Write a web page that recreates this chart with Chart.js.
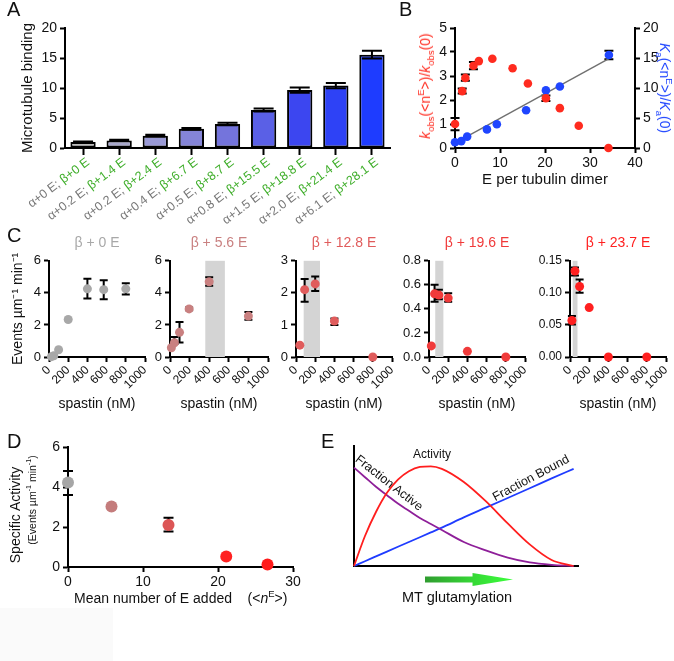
<!DOCTYPE html>
<html>
<head>
<meta charset="utf-8">
<title>Spastin activity and microtubule glutamylation</title>
<script src="https://cdn.jsdelivr.net/npm/chart.js@4.4.1/dist/chart.umd.min.js"></script>
<style>
  html, body { margin: 0; padding: 0; background: #fff; }
  body {
    position: relative;
    width: 674px;
    height: 661px;
    overflow: hidden;
    font-family: "Liberation Sans", Arial, sans-serif;
    color: #111;
  }
  canvas { position: absolute; }
  .txt { position: absolute; white-space: nowrap; line-height: 1; }
  .mid { transform: translate(-50%, -50%); }
  .up { transform: translate(-50%, -50%) rotate(-90deg); }
  .down { transform: translate(-50%, -50%) rotate(90deg); }
  .panel { font-size: 20px; }
  sub, sup { font-size: 68%; line-height: 0; }
  #shade { position: absolute; left: 0; top: 608px; width: 113px; height: 53px; background: #fafafa; }
  #arrow {
    position: absolute; left: 425px; top: 573px; width: 88px; height: 13px;
    background: linear-gradient(to right, #2f9c2f, #36d936 55%, #3cff3c);
    clip-path: polygon(0 27%, 54% 27%, 54% 0, 100% 50%, 54% 100%, 54% 73%, 0 73%);
  }
</style>
</head>
<body>
<div id="shade"></div>

<canvas id="chartA" width="400" height="230" style="left:0;top:0"></canvas>
<canvas id="chartB" width="279" height="200" style="left:395px;top:0"></canvas>
<canvas id="chartC1" width="159" height="195" style="left:0;top:225px"></canvas>
<canvas id="chartC2" width="157" height="195" style="left:125px;top:225px"></canvas>
<canvas id="chartC3" width="151" height="195" style="left:255px;top:225px"></canvas>
<canvas id="chartC4" width="149" height="195" style="left:390px;top:225px"></canvas>
<canvas id="chartC5" width="150" height="195" style="left:530px;top:225px"></canvas>
<canvas id="chartD" width="320" height="180" style="left:0;top:430px"></canvas>
<canvas id="chartE" width="280" height="150" style="left:330px;top:430px"></canvas>

<div class="txt panel" style="left:7px;top:-1px">A</div>
<div class="txt panel" style="left:399px;top:-1px">B</div>
<div class="txt panel" style="left:7px;top:225px">C</div>
<div class="txt panel" style="left:7px;top:431px">D</div>
<div class="txt panel" style="left:321px;top:431px">E</div>

<div class="txt up" style="left:425px;top:86px;font-size:14px;color:#ff2b1f"><i>k</i><sub>obs</sub>(&lt;n<sup>E</sup>&gt;)/<i>k</i><sub>obs</sub>(0)</div>
<div class="txt down" style="left:665px;top:88px;font-size:14px;color:#1f45ff"><i>K</i><sub>a</sub>(&lt;n<sup>E</sup>&gt;)/<i>K</i><sub>a</sub>(0)</div>

<div class="txt up" style="left:15px;top:515px;font-size:14px">Specific Activity</div>
<div class="txt up" style="left:32px;top:500px;font-size:10.5px">(Events µm<sup>-1</sup> min<sup>-1</sup>)</div>
<div class="txt" style="left:74px;top:591px;font-size:14px">Mean number of E added&nbsp;&nbsp;&nbsp;&nbsp;(&lt;<i>n</i><sup>E</sup>&gt;)</div>

<div class="txt mid" style="left:432px;top:454px;font-size:12px">Activity</div>
<div class="txt" style="left:389px;top:483px;font-size:12.5px;transform:translate(-50%,-50%) rotate(38deg)">Fraction Active</div>
<div class="txt" style="left:531px;top:478px;font-size:12.5px;transform:translate(-50%,-50%) rotate(-28deg)">Fraction Bound</div>
<div id="arrow"></div>
<div class="txt mid" style="left:457px;top:597px;font-size:14.5px">MT glutamylation</div>

<script>
// ---- A: microtubule binding per tubulin preparation
const aAlpha = ["α+0 E; ", "α+0.2 E; ", "α+0.2 E; ", "α+0.4 E; ", "α+0.5 E; ", "α+0.8 E; ", "α+1.5 E; ", "α+2.0 E; ", "α+6.1 E; "];
const aBeta = ["β+0 E", "β+1.4 E", "β+2.4 E", "β+6.7 E", "β+8.7 E", "β+15.5 E", "β+18.8 E", "β+21.4 E", "β+28.1 E"];
const aBinding = [1.0, 1.27, 2.05, 3.2, 4.0, 6.35, 9.65, 10.4, 15.55];
const aBindingErr = [0.08, 0.1, 0.15, 0.15, 0.2, 0.25, 0.45, 0.45, 0.65];
const aBarColors = ["#bdbdbd", "#a8a8cc", "#9a9ad6", "#8585d8", "#7474dc", "#5a60e6", "#3c46f0", "#2e42f6", "#1e3cff"];

// ---- B: relative severing rate (left) and affinity (right) vs E per dimer
const bRateE = [0, 1.6, 2.3, 4.1, 5.3, 8.3, 12.8, 16.2, 20.2, 23.3, 27.5, 34.1];
const bRate = [1.0, 2.37, 2.92, 3.43, 3.62, 3.72, 3.32, 2.69, 2.07, 1.66, 0.93, 0.0];
const bRateRange = [[0.74, 1.25], [2.27, 2.48], [2.8, 3.06], [3.28, 3.58], null, null, null, null, [1.96, 2.19], null, null, null];
const bAffE = [0, 1.4, 2.7, 7.1, 9.3, 15.8, 20.2, 23.3, 34.2];
const bAff = [0.95, 1.15, 1.9, 3.1, 3.95, 6.3, 9.6, 10.25, 15.5];
const bAffRange = [null, null, null, null, null, null, null, null, [14.8, 16.2]];
const bFitE = [2.6, 34.2];
const bFit = [1.9, 14.9];

// ---- C: severing events vs spastin concentration
const cTitles = ["β + 0 E", "β + 5.6 E", "β + 12.8 E", "β + 19.6 E", "β + 23.7 E"];
const c1Spastin = [25, 50, 100, 200, 400, 570, 800];
const c1Events = [0.02, 0.08, 0.45, 2.34, 4.25, 4.2, 4.25];
const c1Range = [null, null, null, null, [3.65, 4.88], [3.6, 4.78], [3.9, 4.6]];
const c2Spastin = [14, 45, 97, 195, 400, 800];
const c2Events = [0.58, 0.89, 1.54, 3.0, 4.69, 2.55];
const c2Range = [null, [0.81, 1.24], [0.91, 2.18], [2.92, 3.08], [4.44, 4.98], [2.32, 2.8]];
const c3Spastin = [40, 90, 200, 400, 800];
const c3Events = [0.37, 2.1, 2.28, 1.12, 0];
const c3Range = [null, [1.72, 2.43], [2.06, 2.51], [1.0, 1.2], null];
const c4Spastin = [24, 58, 103, 200, 400, 800];
const c4Events = [0.092, 0.525, 0.515, 0.49, 0.047, 0];
const c4Range = [null, [0.46, 0.6], [0.48, 0.56], [0.46, 0.53], null, null];
const c5Spastin = [20, 52, 100, 200, 400, 800];
const c5Events = [0.057, 0.134, 0.11, 0.077, 0, 0];
const c5Range = [[0.0507, 0.0638], [0.127, 0.1396], [0.1, 0.121], null, null, null];
const cBands = [null, [360, 560], [80, 250], [65, 150], [28, 78]];

// ---- D: specific activity vs mean E added
const dMeanE = [0, 5.8, 13.4, 21.1, 26.6];
const dActivity = [4.22, 3.02, 2.1, 0.52, 0.13];
const dRange = [[3.6, 4.8], null, [1.77, 2.46], null, null];

// ---- E: model sketch
const eLevel = [0, 0.05, 0.1, 0.15, 0.2, 0.25, 0.3, 0.35, 0.4, 0.5, 0.6, 0.7, 0.8, 0.9, 1.0];
const eActivity = [0, 0.25, 0.45, 0.61, 0.72, 0.79, 0.826, 0.831, 0.81, 0.7, 0.54, 0.355, 0.18, 0.05, 0];
const eFractionActive = [0.82, 0.74, 0.66, 0.59, 0.52, 0.46, 0.4, 0.35, 0.3, 0.2, 0.13, 0.07, 0.03, 0.01, 0];
const eFractionBound = [0, 0.04, 0.08, 0.12, 0.16, 0.2, 0.24, 0.28, 0.32, 0.405, 0.486, 0.567, 0.648, 0.73, 0.81];

Chart.defaults.font.family = "\"Liberation Sans\", Arial, sans-serif";
Chart.defaults.color = "#111";
Chart.defaults.animation = false;
Chart.defaults.responsive = false;
Chart.defaults.plugins.legend.display = false;
Chart.defaults.plugins.tooltip.enabled = false;

const tickGrid = { drawOnChartArea: false, tickLength: 5, tickWidth: 2, tickColor: "#000" };
const axisBorder = { display: true, color: "#000", width: 2 };

// black error bars, from [low, high] pairs stored on the dataset
function drawErrors(chart, front) {
  const ctx = chart.ctx;
  chart.data.datasets.forEach((ds, i) => {
    if (!ds.errRange || !!ds.errFront !== front) return;
    const meta = chart.getDatasetMeta(i);
    const ys = chart.scales[meta.yAxisID];
    const c = ds.errCap / 2;
    ctx.save();
    ctx.strokeStyle = "#000";
    ctx.lineWidth = 2;
    ds.errRange.forEach((r, j) => {
      if (!r) return;
      const x = meta.data[j].x;
      const lo = ys.getPixelForValue(r[0]);
      const hi = ys.getPixelForValue(r[1]);
      ctx.beginPath();
      ctx.moveTo(x, lo); ctx.lineTo(x, hi);
      ctx.moveTo(x - c, lo); ctx.lineTo(x + c, lo);
      ctx.moveTo(x - c, hi); ctx.lineTo(x + c, hi);
      ctx.stroke();
    });
    ctx.restore();
  });
}

const errorBars = {
  id: "errorBars",
  beforeDatasetsDraw(chart) { drawErrors(chart, false); },
  afterDatasetsDraw(chart) { drawErrors(chart, true); }
};

const bandPlugin = {
  id: "band",
  beforeDatasetsDraw(chart, args, opts) {
    if (!opts.range) return;
    const { ctx, chartArea, scales } = chart;
    const x0 = scales.x.getPixelForValue(opts.range[0]);
    const x1 = scales.x.getPixelForValue(opts.range[1]);
    ctx.save();
    ctx.fillStyle = "#d4d4d4";
    ctx.fillRect(x0, chartArea.top, x1 - x0, chartArea.bottom - chartArea.top);
    ctx.restore();
  }
};

// category labels of A: grey alpha part + green beta part
const twoToneLabels = {
  id: "twoToneLabels",
  afterDraw(chart, args, opts) {
    const ctx = chart.ctx;
    const xs = chart.scales.x;
    ctx.save();
    ctx.font = "12.5px \"Liberation Sans\", Arial, sans-serif";
    ctx.textAlign = "right";
    ctx.textBaseline = "middle";
    aBeta.forEach((beta, i) => {
      ctx.save();
      ctx.translate(xs.getPixelForTick(i) + opts.dx, xs.top + opts.dy);
      ctx.rotate(-opts.angle * Math.PI / 180);
      ctx.fillStyle = "#3fae2a";
      ctx.fillText(beta, 0, 0);
      ctx.fillStyle = "#777";
      ctx.fillText(aAlpha[i], -ctx.measureText(beta).width, 0);
      ctx.restore();
    });
    ctx.restore();
  }
};

// A
new Chart(document.getElementById("chartA"), {
  type: "bar",
  data: {
    labels: aBeta,
    datasets: [{
      data: aBinding,
      backgroundColor: aBarColors,
      borderColor: "#000",
      borderWidth: 2,
      borderSkipped: false,
      barPercentage: 0.7,
      categoryPercentage: 1,
      errRange: aBinding.map((v, i) => [v - aBindingErr[i], v + aBindingErr[i]]),
      errCap: 20,
      errFront: true
    }]
  },
  options: {
    layout: { padding: { top: 28, right: 10 } },
    plugins: { twoToneLabels: { dx: 5, dy: 13, angle: 37 } },
    scales: {
      x: {
        grid: { ...tickGrid, offset: false, tickLength: 7 },
        border: axisBorder,
        ticks: { display: false },
        afterFit: s => { s.height = 82; }
      },
      y: {
        min: 0, max: 20,
        ticks: { stepSize: 5, font: { size: 14 }, padding: 3 },
        grid: tickGrid,
        border: axisBorder,
        title: { display: true, text: "Microtubule binding", font: { size: 15 }, padding: { top: 19, bottom: 0 } },
        afterFit: s => { s.width = 65; }
      }
    }
  },
  plugins: [errorBars, twoToneLabels]
});

// B
new Chart(document.getElementById("chartB"), {
  type: "scatter",
  data: {
    datasets: [
      {
        data: bRateE.map((x, i) => ({ x, y: bRate[i] })),
        backgroundColor: "#ff2b1f", borderWidth: 0, pointRadius: 4.3,
        yAxisID: "y", clip: false, order: 1,
        errRange: bRateRange, errCap: 9
      },
      {
        data: bAffE.map((x, i) => ({ x, y: bAff[i] })),
        backgroundColor: "#1f45ff", borderWidth: 0, pointRadius: 4.3,
        yAxisID: "y2", clip: false, order: 2,
        errRange: bAffRange, errCap: 9
      },
      {
        type: "line",
        data: bFitE.map((x, i) => ({ x, y: bFit[i] })),
        borderColor: "#707070", borderWidth: 1.4, pointRadius: 0,
        yAxisID: "y2", order: 3
      }
    ]
  },
  options: {
    layout: { padding: { top: 28 } },
    scales: {
      x: {
        type: "linear", min: 0, max: 40,
        ticks: { stepSize: 10, font: { size: 14 }, padding: 2 },
        grid: tickGrid,
        border: axisBorder,
        title: { display: true, text: "E per tubulin dimer", font: { size: 15 }, padding: { top: 0, bottom: 11 } },
        afterFit: s => { s.height = 52; }
      },
      y: {
        position: "left", min: 0, max: 5,
        ticks: { stepSize: 1, font: { size: 14 }, padding: 3 },
        grid: tickGrid,
        border: axisBorder,
        afterFit: s => { s.width = 60; }
      },
      y2: {
        position: "right", min: 0, max: 20,
        ticks: { stepSize: 5, font: { size: 14 }, padding: 3 },
        grid: tickGrid,
        border: axisBorder,
        afterFit: s => { s.width = 39; }
      }
    }
  },
  plugins: [errorBars]
});

// C
function spastinChart(id, axisWidth, title, color, spastin, events, ranges, band, yMax, yStep, decimals, tickSize, yTitle) {
  new Chart(document.getElementById(id), {
    type: "scatter",
    data: {
      datasets: [{
        data: spastin.map((x, i) => ({ x, y: events[i] })),
        backgroundColor: color, borderWidth: 0, pointRadius: 4.5, clip: false,
        errRange: ranges, errCap: 8
      }]
    },
    options: {
      layout: { padding: { right: 14 } },
      plugins: {
        title: {
          display: true, text: title, color, fullSize: false,
          font: { size: 14, weight: "normal" }, padding: { top: 10, bottom: 9 }
        },
        band: band ? { range: band } : false
      },
      scales: {
        x: {
          type: "linear", min: 0, max: 1000,
          ticks: { stepSize: 200, autoSkip: false, minRotation: 45, maxRotation: 45, font: { size: 12 }, padding: 1, callback: v => String(v) },
          grid: tickGrid,
          border: axisBorder,
          title: { display: true, text: "spastin (nM)", font: { size: 14 }, padding: { top: 0, bottom: 7 } },
          afterFit: s => { s.height = 63; }
        },
        y: {
          min: 0, max: yMax,
          ticks: { stepSize: yStep, font: { size: tickSize }, padding: 3, callback: v => v.toFixed(decimals) },
          grid: tickGrid,
          border: axisBorder,
          title: { display: yTitle, text: "Events µm⁻¹ min⁻¹", font: { size: 14 }, padding: { top: 10, bottom: 0 } },
          afterFit: s => { s.width = axisWidth; }
        }
      }
    },
    plugins: [bandPlugin, errorBars]
  });
}

spastinChart("chartC1", 49, cTitles[0], "#a8a8a8", c1Spastin, c1Events, c1Range, cBands[0], 6, 2, 0, 13, true);
spastinChart("chartC2", 45, cTitles[1], "#c98080", c2Spastin, c2Events, c2Range, cBands[1], 6, 2, 0, 13, false);
spastinChart("chartC3", 41, cTitles[2], "#e05c5c", c3Spastin, c3Events, c3Range, cBands[2], 3, 1, 0, 13, false);
spastinChart("chartC4", 39, cTitles[3], "#f03a3a", c4Spastin, c4Events, c4Range, cBands[3], 0.8, 0.2, 1, 13, false);
spastinChart("chartC5", 40, cTitles[4], "#ff2020", c5Spastin, c5Events, c5Range, cBands[4], 0.15, 0.05, 2, 12, false);

// D
new Chart(document.getElementById("chartD"), {
  type: "scatter",
  data: {
    datasets: [{
      data: dMeanE.map((x, i) => ({ x, y: dActivity[i] })),
      backgroundColor: ["#a6a6a6", "#c47c7c", "#dc5656", "#ff2222", "#ff1a1a"],
      borderWidth: 0, pointRadius: 6, clip: false,
      errRange: dRange, errCap: 10
    }]
  },
  options: {
    layout: { padding: { top: 17, right: 27 } },
    scales: {
      x: {
        type: "linear", min: 0, max: 30,
        ticks: { stepSize: 10, font: { size: 14 }, padding: 2 },
        grid: tickGrid,
        border: axisBorder,
        afterFit: s => { s.height = 43; }
      },
      y: {
        min: 0, max: 6,
        ticks: { stepSize: 2, font: { size: 14 }, padding: 3 },
        grid: tickGrid,
        border: axisBorder,
        afterFit: s => { s.width = 68; }
      }
    }
  },
  plugins: [errorBars]
});

// E
const plainAxis = { ticks: { display: false }, grid: { display: false }, border: axisBorder };
new Chart(document.getElementById("chartE"), {
  type: "line",
  data: {
    datasets: [
      { data: eLevel.map((x, i) => ({ x, y: eActivity[i] })), borderColor: "#ff1e1e" },
      { data: eLevel.map((x, i) => ({ x, y: eFractionActive[i] })), borderColor: "#8e1f99" },
      { data: eLevel.map((x, i) => ({ x, y: eFractionBound[i] })), borderColor: "#1f3cff" }
    ]
  },
  options: {
    layout: { padding: { top: 16, right: 32 } },
    elements: {
      point: { radius: 0 },
      line: { borderWidth: 1.8, cubicInterpolationMode: "monotone" }
    },
    datasets: { line: { clip: false } },
    scales: {
      x: { type: "linear", min: 0, max: 1.02, ...plainAxis, afterFit: s => { s.height = 14; } },
      y: { min: 0, max: 1, ...plainAxis, afterFit: s => { s.width = 24; } }
    }
  }
});
</script>
</body>
</html>
